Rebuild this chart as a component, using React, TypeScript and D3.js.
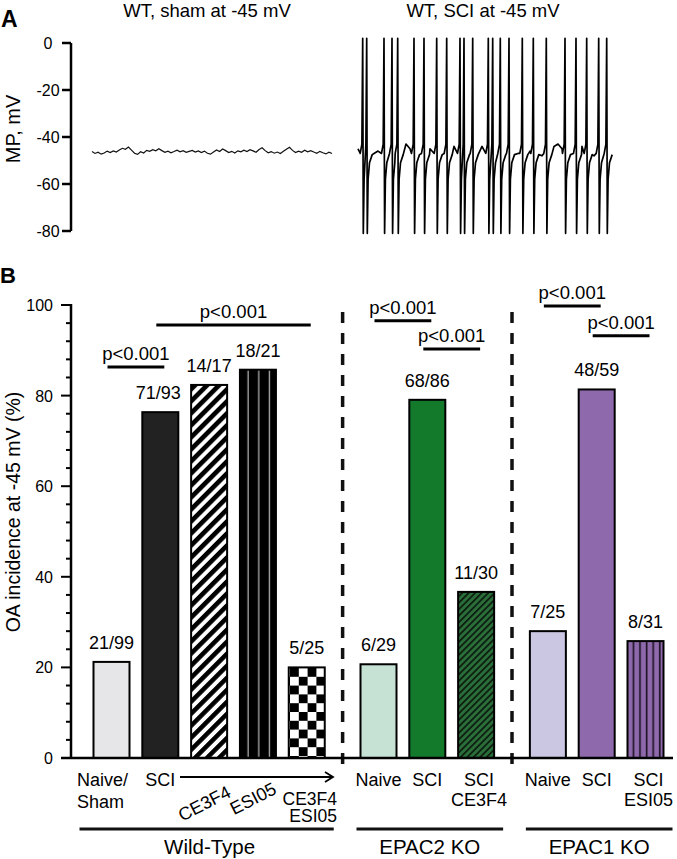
import { useEffect, useRef } from 'react';
import * as d3 from 'd3';

// ---- panel A: membrane potential traces ----
const mvTicks = [0, -20, -40, -60, -80];

// sham trace, mV, sampled every 30 ms
const shamTrace = [
  -46.2, -47.0, -46.5, -47.3, -46.8, -46.0, -46.6, -45.9, -46.4, -45.5,
  -44.8, -45.2, -44.3, -45.6, -46.9, -47.4, -46.3, -46.8, -45.7, -46.1,
  -45.4, -45.9, -45.0, -45.8, -46.5, -46.0, -46.7, -46.2, -45.6, -46.3,
  -45.8, -46.5, -46.1, -45.7, -46.4, -45.9, -46.6, -46.0, -46.9, -47.3,
  -46.4, -45.5, -46.2, -45.1, -45.8, -46.6, -46.1, -46.8, -45.9, -46.3,
  -45.6, -46.2, -45.4, -45.9, -46.5, -45.3, -44.6, -45.8, -46.7, -46.2,
  -46.9, -46.4, -47.0, -46.1, -45.2, -44.4, -45.7, -46.6, -46.0, -46.5,
  -45.6, -46.3, -45.8, -46.4, -46.9, -46.1, -46.7, -47.2, -46.5, -47.0,
];

// SCI trace: baseline between spikes (mV, every 40 ms), spike times (ms) and spike waveform
const sciBaseline = [
  -45, -47, -48, -48, -47, -46, -45, -47, -48, -47, -46, -44, -43, -45, -47, -48,
  -47, -46, -45, -46, -47, -48, -47, -46, -44, -45, -47, -48, -47, -46, -45, -44,
  -46, -47, -48, -47, -46, -45, -44, -46, -47, -48, -47, -46, -45, -47, -48, -47,
  -45, -44, -43, -45, -47, -48, -46, -45, -44, -46, -47, -48, -46, -45, -44, -47,
];
const spikeTimes = [
  47, 87, 260, 340, 397, 560, 660, 787, 887, 1020, 1060, 1147,
  1303, 1347, 1423, 1510, 1643, 1753, 1883, 2070, 2180, 2287, 2407, 2487,
];
const spikeShape = [
  [-25, -47], [-8, -43], [0, 2], [6, -81], [14, -58], [28, -51], [55, -47.5],
];

// ---- panel B: OA incidence ----
const categories = [
  'Naive/Sham', 'SCI', 'CE3F4', 'ESI05', 'CE3F4 ESI05',
  'Naive', 'SCI', 'SCI CE3F4',
  'Naive', 'SCI', 'SCI ESI05',
];
const groupOf = [0, 0, 0, 0, 0, 1, 1, 1, 2, 2, 2];
const groupNames = ['Wild-Type', 'EPAC2 KO', 'EPAC1 KO'];
const hits = [21, 71, 14, 18, 5, 6, 68, 11, 7, 48, 8];
const totals = [99, 93, 17, 21, 25, 29, 86, 30, 25, 59, 31];
const xLabelLines = [
  ['Naive/', 'Sham'], ['SCI'], ['CE3F4'], ['ESI05'], ['CE3F4', 'ESI05'],
  ['Naive'], ['SCI'], ['SCI', 'CE3F4'],
  ['Naive'], ['SCI'], ['SCI', 'ESI05'],
];
const pctTicks = [0, 20, 40, 60, 80, 100];
const sigPairs = [[0, 1], [1, 4], [5, 6], [6, 7], [8, 9], [9, 10]];
const sigHeights = [86.3, 95.6, 96.5, 90.3, 99.8, 93.2];
const sigLabel = 'p<0.001';

const barFills = [
  '#e6e6e9', '#222222', 'url(#hatchBW)', 'url(#stripesBW)', 'url(#checker)',
  '#c5e2d4', '#137a2c', 'url(#hatchGreen)',
  '#cbc7e3', '#8e69ac', 'url(#stripesPurple)',
];

const FONT = "'Liberation Sans', Arial, Helvetica, sans-serif";

export default function App() {
  const svgRef = useRef<SVGSVGElement | null>(null);

  useEffect(() => {
    if (!svgRef.current) return;
    const svg = d3.select(svgRef.current);
    svg.selectAll('*').remove();
    svg.attr('font-family', FONT);

    // patterns
    const defs = svg.append('defs');
    const hatch = defs.append('pattern').attr('id', 'hatchBW')
      .attr('patternUnits', 'userSpaceOnUse').attr('width', 8.5).attr('height', 8.5)
      .attr('patternTransform', 'rotate(45)');
    hatch.append('rect').attr('width', 8.5).attr('height', 8.5).attr('fill', '#fff');
    hatch.append('rect').attr('width', 4.6).attr('height', 8.5).attr('fill', '#000');

    const stripes = defs.append('pattern').attr('id', 'stripesBW')
      .attr('patternUnits', 'userSpaceOnUse').attr('width', 10.7).attr('height', 10)
      .attr('x', 240);
    stripes.append('rect').attr('width', 10.7).attr('height', 10).attr('fill', '#000');
    stripes.append('rect').attr('x', 7.5).attr('width', 1.2).attr('height', 10).attr('fill', '#bbbbbb');

    const checker = defs.append('pattern').attr('id', 'checker')
      .attr('patternUnits', 'userSpaceOnUse').attr('width', 17.6).attr('height', 17.6)
      .attr('x', 290).attr('y', 668);
    checker.append('rect').attr('width', 17.6).attr('height', 17.6).attr('fill', '#fff');
    checker.append('rect').attr('width', 8.8).attr('height', 8.8).attr('fill', '#000');
    checker.append('rect').attr('x', 8.8).attr('y', 8.8).attr('width', 8.8).attr('height', 8.8).attr('fill', '#000');

    const hatchG = defs.append('pattern').attr('id', 'hatchGreen')
      .attr('patternUnits', 'userSpaceOnUse').attr('width', 4.6).attr('height', 4.6)
      .attr('patternTransform', 'rotate(45)');
    hatchG.append('rect').attr('width', 4.6).attr('height', 4.6).attr('fill', '#2a6e3a');
    hatchG.append('rect').attr('width', 1.8).attr('height', 4.6).attr('fill', '#0d1f10');

    const stripesP = defs.append('pattern').attr('id', 'stripesPurple')
      .attr('patternUnits', 'userSpaceOnUse').attr('width', 6.6).attr('height', 10)
      .attr('x', 628);
    stripesP.append('rect').attr('width', 6.6).attr('height', 10).attr('fill', '#8e69ac');
    stripesP.append('rect').attr('x', 4.6).attr('width', 1.6).attr('height', 10).attr('fill', '#1a1020');

    // ================= Panel A =================
    svg.append('text').attr('x', 1).attr('y', 27).attr('font-size', 23)
      .attr('font-weight', 700).text('A');

    const yMv = d3.scaleLinear().domain([-80, 0]).range([231, 43]);
    const axA = svg.append('g');
    axA.append('line').attr('x1', 71).attr('x2', 71).attr('y1', yMv(0)).attr('y2', yMv(-80))
      .attr('stroke', '#000').attr('stroke-width', 2.5);
    mvTicks.forEach((t) => {
      axA.append('line').attr('x1', 62).attr('x2', 71).attr('y1', yMv(t)).attr('y2', yMv(t))
        .attr('stroke', '#000').attr('stroke-width', 2.5);
      axA.append('text').attr('x', 48).attr('y', yMv(t) + 6).attr('text-anchor', 'middle')
        .attr('font-size', 16).text(t === 0 ? '0' : `-${Math.abs(t)}`);
    });
    svg.append('text').attr('transform', `translate(20,${yMv(-40) - 8}) rotate(-90)`)
      .attr('text-anchor', 'middle').attr('font-size', 20).text('MP, mV');

    svg.append('text').attr('x', 207).attr('y', 17).attr('text-anchor', 'middle')
      .attr('font-size', 18.5).text('WT, sham at -45 mV');
    svg.append('text').attr('x', 483).attr('y', 17).attr('text-anchor', 'middle')
      .attr('font-size', 18.5).text('WT, SCI at -45 mV');

    const xSham = d3.scaleLinear().domain([0, (shamTrace.length - 1) * 30]).range([92, 332]);
    const shamLine = d3.line<number>().x((_, i) => xSham(i * 30)).y((v) => yMv(v));
    svg.append('path').attr('d', shamLine(shamTrace)).attr('fill', 'none')
      .attr('stroke', '#111').attr('stroke-width', 1.2);

    // SCI trace: merge spike waveforms with baseline
    const pts: [number, number][] = [];
    spikeTimes.forEach((s, i) => {
      const prev = i > 0 ? spikeTimes[i - 1] : -Infinity;
      const next = i < spikeTimes.length - 1 ? spikeTimes[i + 1] : Infinity;
      spikeShape.forEach(([dt, v]) => {
        const t = s + dt;
        if (dt < 0 && t <= prev + 22) return;
        if (dt > 6 && t >= next - 25) return;
        pts.push([t, v]);
      });
    });
    sciBaseline.forEach((v, k) => {
      const t = k * 40;
      if (spikeTimes.some((s) => t > s - 30 && t < s + 60)) return;
      pts.push([t, v]);
    });
    pts.sort((a, b) => a[0] - b[0]);
    const xSci = d3.scaleLinear().domain([0, 2520]).range([358, 610]);
    const sciLine = d3.line<[number, number]>().x((d) => xSci(d[0])).y((d) => yMv(d[1]));
    svg.append('path').attr('d', sciLine(pts)).attr('fill', 'none')
      .attr('stroke', '#000').attr('stroke-width', 1.7).attr('stroke-linejoin', 'round');

    // ================= Panel B =================
    svg.append('text').attr('x', 0).attr('y', 283).attr('font-size', 22)
      .attr('font-weight', 700).text('B');

    const y = d3.scaleLinear().domain([0, 100]).range([758, 305]);
    const slot = categories.map((_, i) => i + groupOf[i] * 0.47);
    const x = d3.scaleLinear().domain([0, 10.94]).range([111.5, 645.5]);
    const cx = (i: number) => x(slot[i]);
    const barW = 36;

    // y axis
    const axB = svg.append('g');
    axB.append('line').attr('x1', 71).attr('x2', 71).attr('y1', y(100) - 1).attr('y2', y(0))
      .attr('stroke', '#000').attr('stroke-width', 2.5);
    d3.range(0, 101, 4).forEach((t) => {
      const major = t % 20 === 0;
      axB.append('line').attr('x1', major ? 61 : 66).attr('x2', 71)
        .attr('y1', y(t)).attr('y2', y(t)).attr('stroke', '#000').attr('stroke-width', 2);
    });
    pctTicks.forEach((t) => {
      axB.append('text').attr('x', 53).attr('y', y(t) + 6).attr('text-anchor', 'end')
        .attr('font-size', 16).text(t);
    });
    svg.append('text').attr('transform', `translate(20,512) rotate(-90)`)
      .attr('text-anchor', 'middle').attr('font-size', 19.5).text('OA incidence at -45 mV (%)');

    // group separators
    [0, 1].forEach((g) => {
      const last = groupOf.lastIndexOf(g);
      const sx = (cx(last) + cx(last + 1)) / 2;
      svg.append('line').attr('x1', sx).attr('x2', sx).attr('y1', 312).attr('y2', 764)
        .attr('stroke', '#111').attr('stroke-width', 3.5).attr('stroke-dasharray', '11,10');
    });

    // bars
    const vals = hits.map((h, i) => (h / totals[i]) * 100);
    svg.append('g').selectAll('rect').data(vals).join('rect')
      .attr('x', (_, i) => cx(i) - barW / 2)
      .attr('y', (d) => y(d))
      .attr('width', barW)
      .attr('height', (d) => y(0) - y(d))
      .attr('fill', (_, i) => barFills[i])
      .attr('stroke', '#000').attr('stroke-width', 2);

    svg.append('g').selectAll('text').data(vals).join('text')
      .attr('x', (_, i) => cx(i) - (i === 1 ? 2 : 0))
      .attr('y', (d) => y(d) - 13)
      .attr('text-anchor', 'middle').attr('font-size', 18)
      .text((_, i) => `${hits[i]}/${totals[i]}`);

    // baseline
    svg.append('line').attr('x1', 61).attr('x2', 673).attr('y1', y(0)).attr('y2', y(0))
      .attr('stroke', '#000').attr('stroke-width', 2.5);

    // significance
    sigPairs.forEach(([a, b], k) => {
      const x1 = cx(a) - 4;
      const x2 = cx(b) + 4;
      const yy = y(sigHeights[k]);
      svg.append('line').attr('x1', x1).attr('x2', x2).attr('y1', yy).attr('y2', yy)
        .attr('stroke', '#000').attr('stroke-width', 3);
      svg.append('text').attr('x', (x1 + x2) / 2).attr('y', yy - 7)
        .attr('text-anchor', 'middle').attr('font-size', 18.5).text(sigLabel);
    });

    // x labels
    const lab = svg.append('g').attr('font-size', 18);
    xLabelLines.forEach((lines, i) => {
      if (i === 2 || i === 3) {
        lab.append('text')
          .attr('transform', `translate(${cx(i) - 2},${i === 2 ? 809 : 804}) rotate(-27)`)
          .attr('text-anchor', 'middle').text(lines[0]);
        return;
      }
      if (i === 0) {
        lines.forEach((s, j) => lab.append('text').attr('x', 77).attr('y', 786 + j * 22).text(s));
        return;
      }
      if (i === 4) {
        lines.forEach((s, j) => lab.append('text').attr('x', 337).attr('y', 805 + j * 17)
          .attr('text-anchor', 'end').attr('font-size', 17.5).text(s));
        return;
      }
      lines.forEach((s, j) => lab.append('text').attr('x', cx(i) + (lines.length > 1 ? 3 : 0))
        .attr('y', 786 + j * 20).attr('text-anchor', 'middle').text(s));
    });

    // treatment arrow
    svg.append('line').attr('x1', 180).attr('x2', 332).attr('y1', 777).attr('y2', 777)
      .attr('stroke', '#000').attr('stroke-width', 1.8);
    svg.append('path').attr('d', 'M325,772 L333,777 L325,782').attr('fill', 'none')
      .attr('stroke', '#000').attr('stroke-width', 1.8);

    // group underlines + names
    groupNames.forEach((name, g) => {
      const first = groupOf.indexOf(g);
      const last = groupOf.lastIndexOf(g);
      const x1 = cx(first) - (g === 0 ? 32 : 22);
      const x2 = cx(last) + 27;
      svg.append('line').attr('x1', x1).attr('x2', x2).attr('y1', 829).attr('y2', 829)
        .attr('stroke', '#111').attr('stroke-width', 3);
      svg.append('text').attr('x', (x1 + x2) / 2 + (g === 0 ? 3 : 0)).attr('y', 854)
        .attr('text-anchor', 'middle').attr('font-size', 20.5).text(name);
    });
  }, []);

  return (
    <svg ref={svgRef} width={677} height={859}
      style={{ position: 'absolute', left: 0, top: 0, background: '#fff' }} />
  );
}
